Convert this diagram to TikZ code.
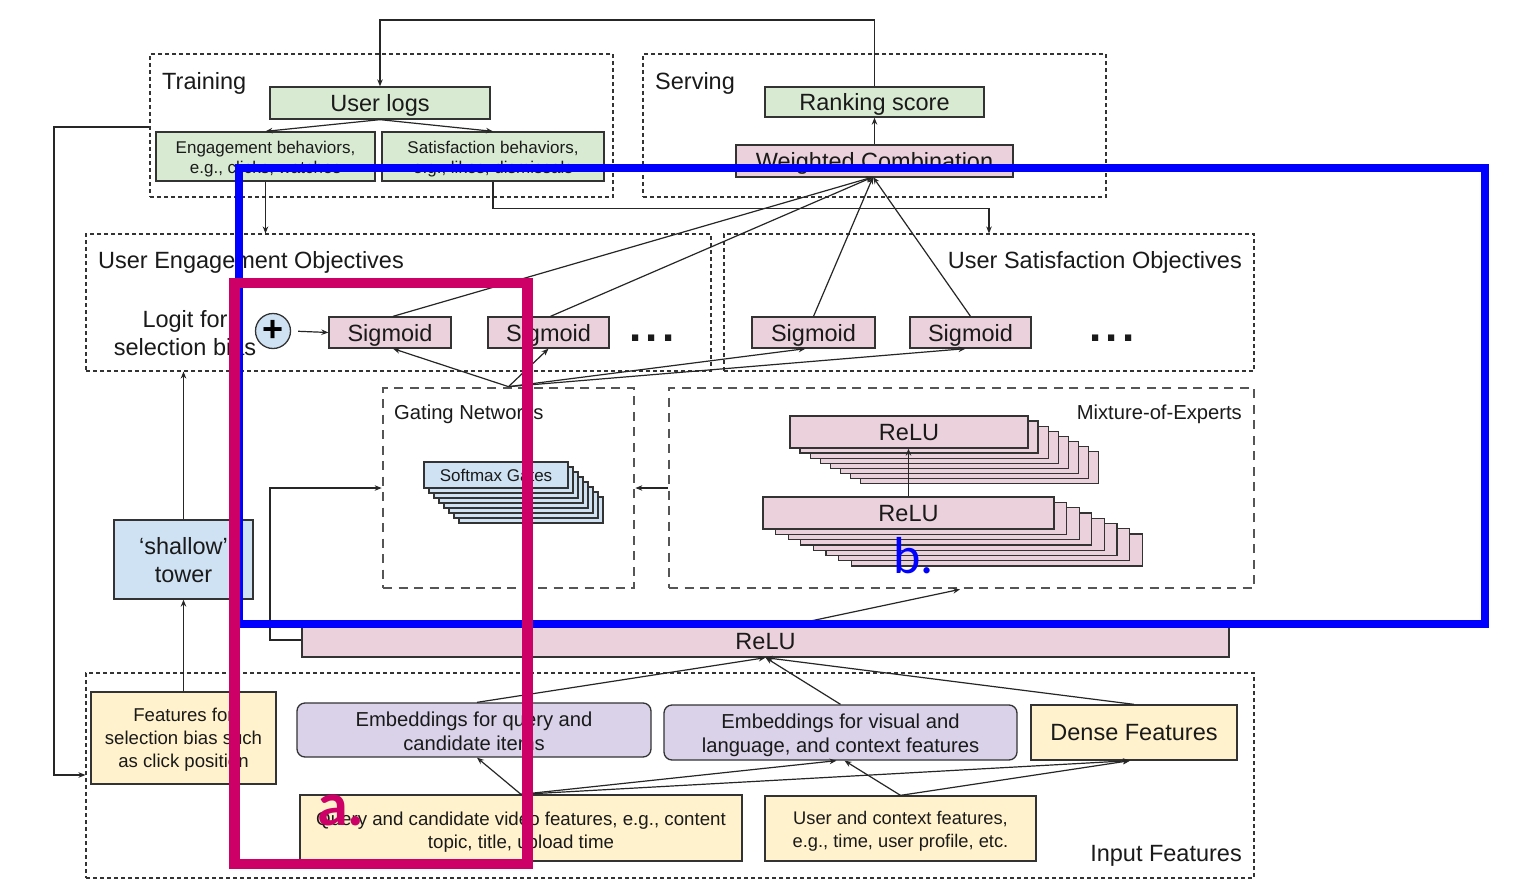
\documentclass[tikz,border=0pt]{standalone}
\usepackage{fontspec}
\setmainfont{Liberation Sans}
\newfontfamily\labfont{Carlito}
\usetikzlibrary{arrows.meta}
\definecolor{gfill}{HTML}{D9EAD3}
\definecolor{pfill}{HTML}{EAD1DC}
\definecolor{bfill}{HTML}{CFE2F3}
\definecolor{yfill}{HTML}{FFF2CC}
\definecolor{lfill}{HTML}{D9D2E9}
\definecolor{edge}{HTML}{333333}
\definecolor{dgray}{HTML}{555555}
\definecolor{txt}{HTML}{1A1A1A}
\definecolor{ovblue}{RGB}{0,0,255}
\definecolor{ovmag}{RGB}{204,0,102}
\newcommand{\mlines}[2]{\raisebox{-#1}[\height][\depth]{\begin{tabular}{@{}c@{}}#2\end{tabular}}}
\begin{document}
\begin{tikzpicture}[x=1pt,y=-1pt,
  f23/.style={font=\fontsize{23.5}{28}\selectfont},
  f20/.style={font=\fontsize{20.2}{24}\selectfont},
  f18/.style={font=\fontsize{18.6}{23}\selectfont},
  f17/.style={font=\fontsize{17}{20}\selectfont},
  one/.style={text depth=0pt},
  box/.style={draw=edge, line width=1.3pt, inner sep=0pt, text=txt},
  gbox/.style={box, fill=gfill},
  pbox/.style={box, fill=pfill},
  bbox/.style={box, fill=bfill},
  ybox/.style={box, fill=yfill},
  lbox/.style={box, fill=lfill, rounded corners=8pt},
  dbox/.style={draw=black!80, line width=1.1pt, dash pattern=on 4pt off 3pt, inner sep=0pt},
  grbox/.style={draw=dgray, line width=2.7pt, dash pattern=on 9pt off 6.5pt, inner sep=0pt},
  lab/.style={inner sep=0pt, text=txt, text depth=0pt},
  conn/.style={draw=black!85, line width=1.2pt},
  arr/.style={conn, -{Stealth[length=7pt,width=5.5pt]}},
]
\useasboundingbox (0,0) rectangle (1517,883);
\fill[white] (0,0) rectangle (1517,883);

% group boxes
\node[dbox, minimum width=463pt, minimum height=143pt] (training) at (381.5,125.5) {};
\node[dbox, minimum width=463pt, minimum height=143pt] (serving) at (874.5,125.5) {};
\node[dbox, minimum width=625pt, minimum height=137pt] (ueo) at (398.5,302.5) {};
\node[dbox, minimum width=530pt, minimum height=137pt] (uso) at (989,302.5) {};
\node[grbox, minimum width=251pt, minimum height=200pt] (gating) at (508.5,488) {};
\node[grbox, minimum width=585pt, minimum height=200pt] (moe) at (961.5,488) {};
\node[dbox, minimum width=1168pt, minimum height=205pt] (input) at (670,775.5) {};

% group labels
\node[lab, f23, anchor=west] (ltrain) at (162,81) {Training};
\node[lab, f23, anchor=west] (lserve) at (655,81) {Serving};
\node[lab, f23, anchor=west] (lueo) at (98,260) {User Engagement Objectives};
\node[lab, f23, anchor=east] (luso) at (1242,260) {User Satisfaction Objectives};
\node[lab, f20, anchor=west] (lgate) at (394,412) {Gating Networks};
\node[lab, f20, anchor=east] (lmoe) at (1242,412) {Mixture-of-Experts};
\node[lab, f23, anchor=east] (linput) at (1242,853) {Input Features};

% training / serving
\node[gbox, f23, one, minimum width=220pt, minimum height=32pt] (userlogs) at (380,103) {User logs};
\node[gbox, f17, minimum width=219pt, minimum height=49pt] (engage) at (265.5,156.5) {\mlines{3pt}{Engagement behaviors,\\e.g., clicks, watches}};
\node[gbox, f17, minimum width=222pt, minimum height=49pt] (satisf) at (493,156.5) {\mlines{3pt}{Satisfaction behaviors,\\e.g., likes, dismissals}};
\node[gbox, f23, one, minimum width=219pt, minimum height=30pt] (rank) at (874.5,102) {Ranking score};
\node[pbox, f23, one, minimum width=277pt, minimum height=32pt] (wc) at (874.5,161) {Weighted Combination};

% objectives
\node[lab, f23, align=center, text depth=] (logit) at (185,333) {Logit for\\selection bias};
\node[circle, draw=edge, line width=1.3pt, fill=bfill, minimum size=35pt, inner sep=0pt,
      font=\fontsize{36}{36}\selectfont\bfseries] (plus) at (273,331) {+};
\node[pbox, f23, one, minimum width=122pt, minimum height=31pt] (sig1) at (390,332.5) {Sigmoid};
\node[pbox, f23, one, minimum width=121pt, minimum height=31pt] (sig2) at (548.5,332.5) {Sigmoid};
\node[pbox, f23, one, minimum width=123pt, minimum height=31pt] (sig3) at (813.5,332.5) {Sigmoid};
\node[pbox, f23, one, minimum width=121pt, minimum height=31pt] (sig4) at (970.5,332.5) {Sigmoid};
\node[lab, font=\fontsize{44}{44}\selectfont\bfseries] (dots1) at (652,338) {.\hspace{4pt}.\hspace{4pt}.};
\node[lab, font=\fontsize{44}{44}\selectfont\bfseries] (dots2) at (1112,338) {.\hspace{4pt}.\hspace{4pt}.};

% softmax stack
\foreach \i in {7,6,...,1}
  \filldraw[fill=bfill, draw=edge, line width=1.3pt] (424+\i*5, 462+\i*5) rectangle ++(144,26);
\node[bbox, f17, one, minimum width=144pt, minimum height=26pt] (softmax) at (496,475) {Softmax Gates};

% experts stacks
\foreach \i in {7,6,...,1}
  \filldraw[fill=pfill, draw=edge, line width=1.3pt] (790+\i*10.1, 416+\i*5.1) rectangle ++(238,32);
\node[pbox, f23, one, minimum width=238pt, minimum height=32pt] (relut) at (909,432) {ReLU};
\foreach \i in {7,6,...,1}
  \filldraw[fill=pfill, draw=edge, line width=1.3pt] (763+\i*12.6, 497+\i*5.3) rectangle ++(291,32);
\node[pbox, f23, one, minimum width=291pt, minimum height=32pt] (relub) at (908.5,513) {ReLU};

% shallow tower & relu bar
\node[bbox, f23, minimum width=139pt, minimum height=79pt] (shallow) at (183.5,559.5) {\mlines{3pt}{‘shallow’\\tower}};
\node[pbox, f23, one, minimum width=927pt, minimum height=31pt] (relubar) at (765.5,641.5) {ReLU};

% inputs
\node[ybox, f18, minimum width=185pt, minimum height=92pt] (featsel) at (183.5,738) {\mlines{2pt}{Features for\\selection bias such\\as click position}};
\node[lbox, font=\fontsize{20.2}{24}\selectfont, minimum width=354pt, minimum height=54pt] (emb1) at (474,730) {\mlines{4pt}{Embeddings for query and\\candidate items}};
\node[lbox, font=\fontsize{20.2}{24}\selectfont, minimum width=353pt, minimum height=55pt] (emb2) at (840.5,732.5) {\mlines{3pt}{Embeddings for visual and\\language, and context features}};
\node[ybox, f23, one, minimum width=206pt, minimum height=55pt] (dense) at (1134,732.5) {Dense Features};
\node[ybox, font=\fontsize{18.7}{23}\selectfont, minimum width=442pt, minimum height=66pt] (qfeat) at (521,828) {\mlines{4pt}{Query and candidate video features, e.g., content\\topic, title, upload time}};
\node[ybox, font=\fontsize{18.3}{23}\selectfont, minimum width=271pt, minimum height=65pt] (ufeat) at (900.5,828.5) {\mlines{3pt}{User and context features,\\e.g., time, user profile, etc.}};

% helper coordinates
\coordinate (toploop) at (0,20);
\coordinate (lA) at (54,127);
\coordinate (lB) at (54,775);
\coordinate (wcin) at (873,177);
\coordinate (rl) at (270,640);

% connectors
\draw[arr] (rank.north) -- (rank.north |- toploop) -| (userlogs.north);
\draw[arr] (userlogs.south) -- (engage.north);
\draw[arr] (userlogs.south) -- (satisf.north);
\draw[arr] (wc.north) -- (rank.south);
\draw[arr] (training.west |- lA) -- (lA) -- (lB) -- (input.west |- lB);
\draw[arr] (engage.south) -- (engage.south |- ueo.north);
\draw[arr] (satisf.south) -- ++(0,27) -| (uso.north);

\draw[arr] ([xshift=3pt]sig1.north) -- (wcin);
\draw[arr] ([xshift=2pt]sig2.north) -- (wcin);
\draw[arr] (sig3.north) -- (wcin);
\draw[arr] (sig4.north) -- (wcin);

\draw[arr] (gating.north) -- ([xshift=3pt]sig1.south);
\draw[arr] (gating.north) -- (sig2.south);
\draw[arr] (gating.north) -- ([xshift=-8pt]sig3.south);
\draw[arr] (gating.north) -- ([xshift=-5pt]sig4.south);

\draw[arr, shorten <=7pt] (plus.east) -- (sig1.west);
\draw[arr] (shallow.north) -- (shallow.north |- ueo.south);
\draw[arr] (featsel.north) -- (featsel.north |- shallow.south);

\draw[arr] (relub.north) -- (relub.north |- relut.south);
\draw[arr] (moe.west) -- (gating.east);
\draw[arr] ([xshift=24.5pt]relubar.north) -- ([xshift=-1.5pt]moe.south);
\draw[arr] (relubar.west |- rl) -- (rl) |- (gating.west);

\draw[arr] ([xshift=3pt]emb1.north) -- (relubar.south);
\draw[arr] (emb2.north) -- (relubar.south);
\draw[arr] (dense.north) -- (relubar.south);

\draw[arr] (qfeat.north) -- ([xshift=3pt]emb1.south);
\draw[arr] (qfeat.north) -- ([xshift=-4pt]emb2.south);
\draw[arr] (qfeat.north) -- ([xshift=-4pt]dense.south);
\draw[arr] (ufeat.north) -- ([xshift=4pt]emb2.south);
\draw[arr] (ufeat.north) -- ([xshift=-4pt]dense.south);

% overlay annotations
\draw[ovblue, line width=7.5pt] (239,168) rectangle (1485,624);
\node[inner sep=0pt, anchor=base west, text=ovblue, font=\labfont\fontsize{52}{52}\selectfont] (bl) at (893,573) {b.};
\draw[ovmag, line width=10.5pt] (234.5,283) rectangle (527.5,864);
\node[inner sep=0pt, anchor=base west, text=ovmag, font=\labfont\bfseries\fontsize{62}{62}\selectfont] (al) at (317,825) {a.};
\end{tikzpicture}
\end{document}
